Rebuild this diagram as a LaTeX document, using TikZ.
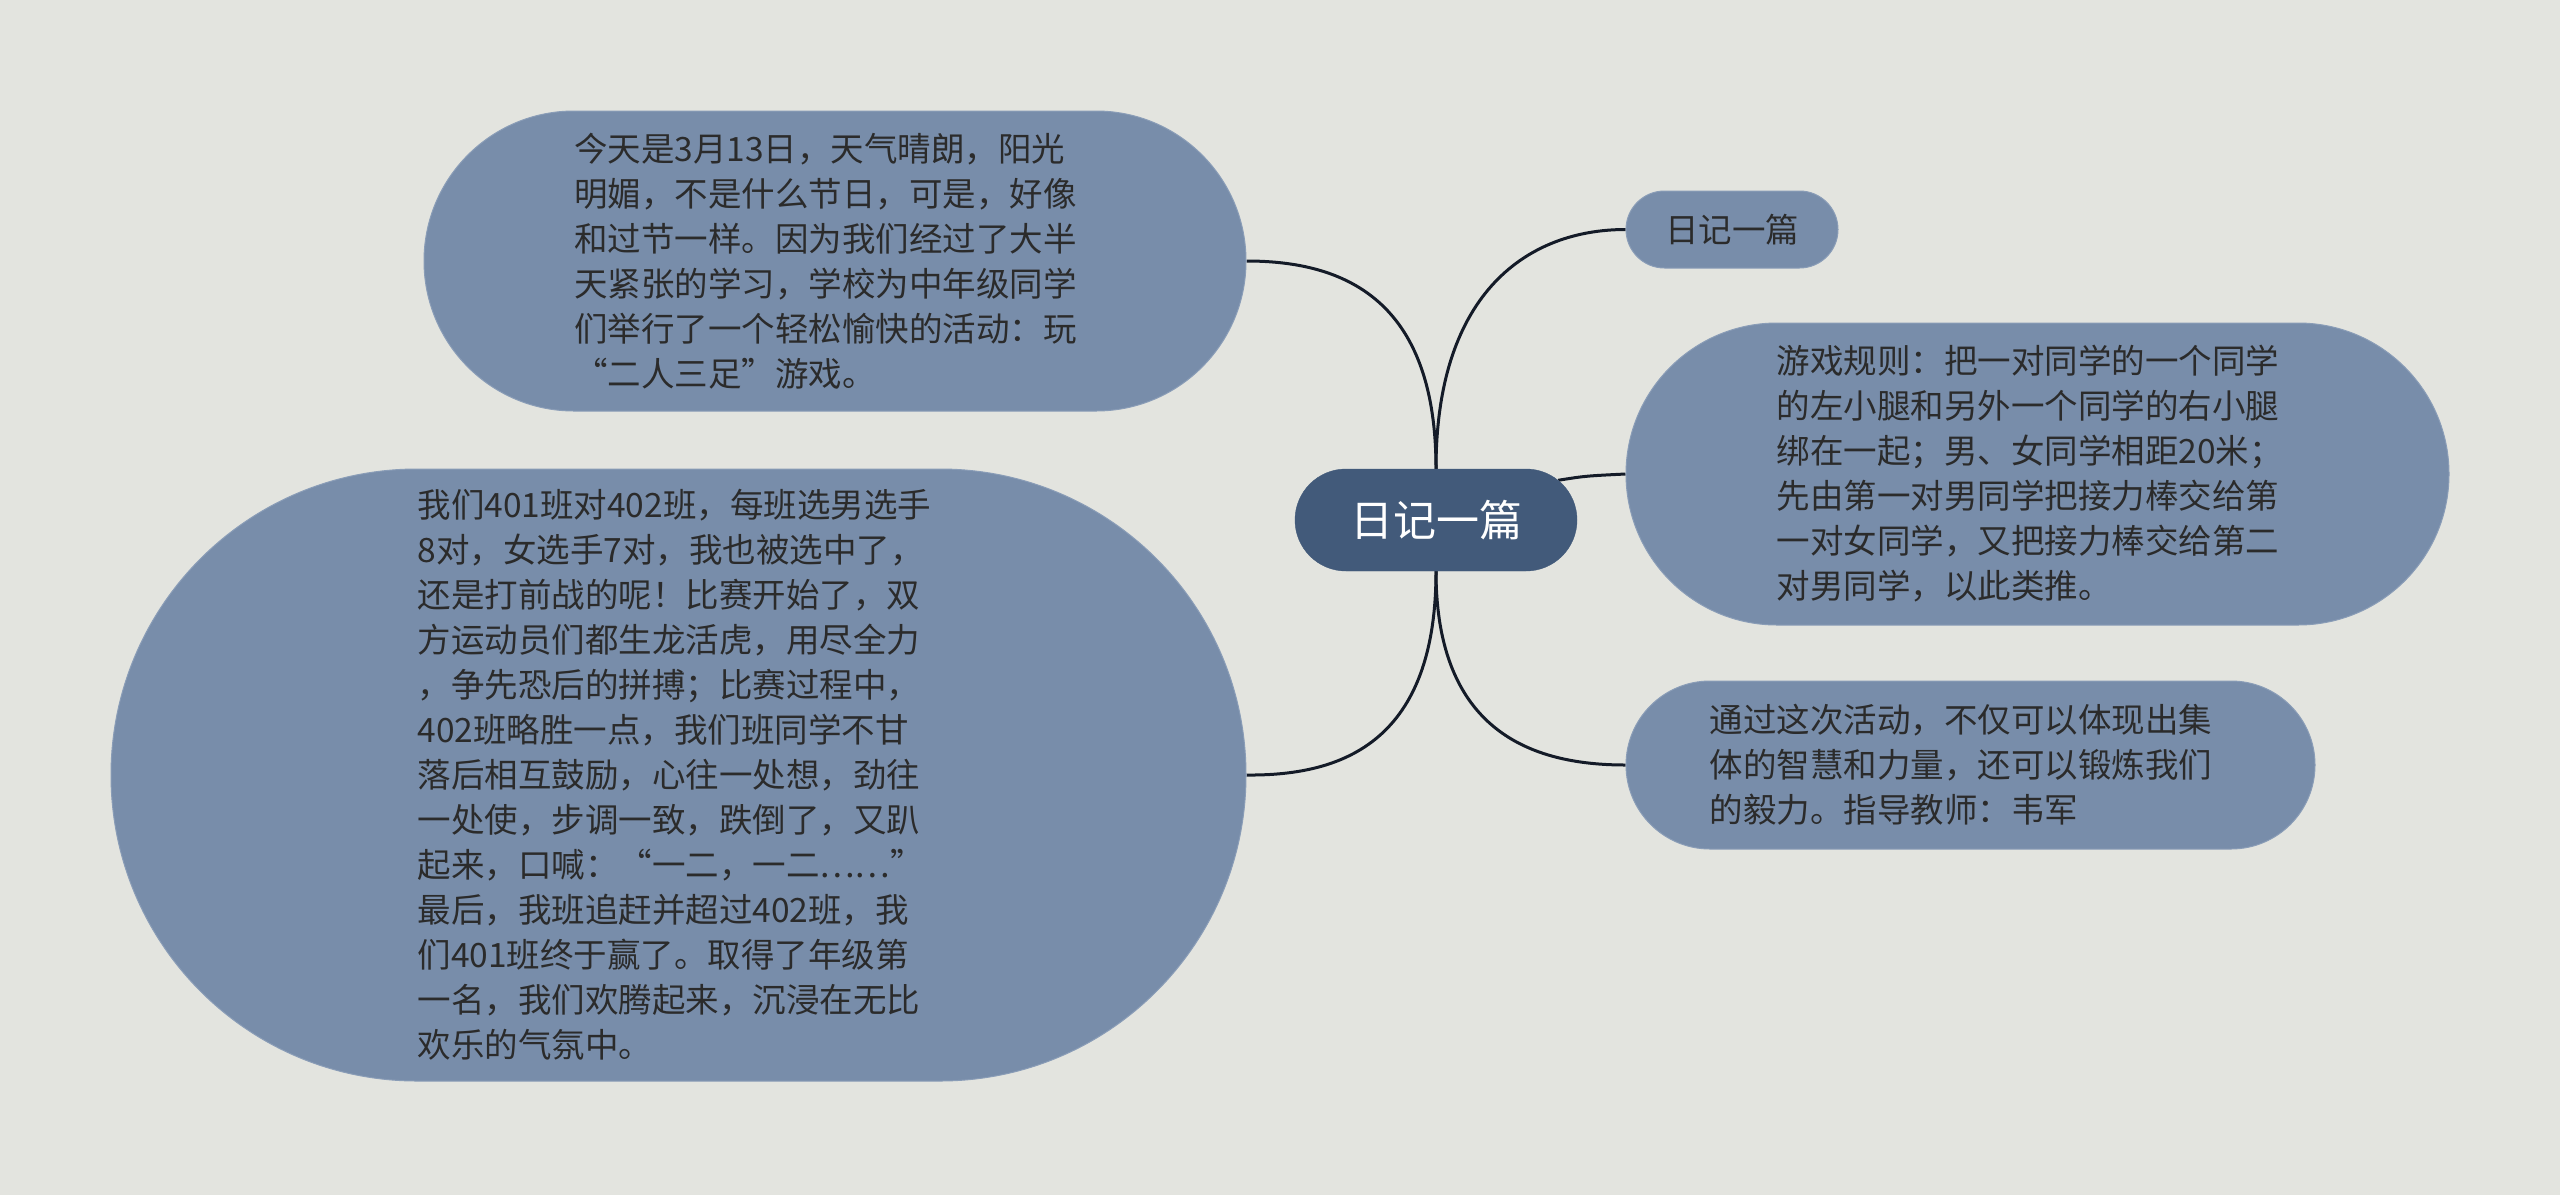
\documentclass[tikz,border=0pt]{standalone}
\usepackage{fontspec}
\newfontfamily\cjk{Noto Sans CJK SC}
\usetikzlibrary{shapes.misc}
\pgfdeclarelayer{bglayer}
\pgfsetlayers{bglayer,main}
\definecolor{bgc}{HTML}{E3E4DF}
\definecolor{leaf}{HTML}{788DAA}
\definecolor{leafedge}{HTML}{8A9DB7}
\definecolor{rootc}{HTML}{425A7A}
\definecolor{txtc}{HTML}{2B2B2B}
\definecolor{linec}{HTML}{141B28}
\tikzset{
  bubble/.style={rounded rectangle, fill=leaf, draw=leafedge, line width=1pt,
    text=txtc, inner sep=0pt, align=left,
    font=\cjk\fontsize{33.5}{45}\selectfont},
  para/.style={bubble, text width=522pt},
  rootbox/.style={rounded rectangle, fill=rootc, draw=rootc, text=white,
    inner sep=0pt, font=\cjk\fontsize{43}{50}\selectfont},
  conn/.style={draw=linec, line width=3pt}
}
\begin{document}
\begin{tikzpicture}[x=1pt,y=-1pt]
\begin{pgfonlayer}{bglayer}
\useasboundingbox (0,0) rectangle (2560,1195);
\fill[bgc] (0,0) rectangle (2560,1195);
\end{pgfonlayer}

% nodes
\node[rootbox, minimum width=282pt, minimum height=102pt] (c) at (1436,520) {日记一篇};
\node[para, minimum width=822pt, minimum height=300pt] (tl) at (835,261)
 {今天是3月13日，天气晴朗，阳光\\明媚，不是什么节日，可是，好像\\和过节一样。因为我们经过了大半\\天紧张的学习，学校为中年级同学\\们举行了一个轻松愉快的活动：玩\\“二人三足”游戏。};
\node[para, minimum width=1135pt, minimum height=612pt] (bl) at (678.5,775)
 {我们401班对402班，每班选男选手\\8对，女选手7对，我也被选中了，\\还是打前战的呢！比赛开始了，双\\方运动员们都生龙活虎，用尽全力\\，争先恐后的拼搏；比赛过程中，\\402班略胜一点，我们班同学不甘\\落后相互鼓励，心往一处想，劲往\\一处使，步调一致，跌倒了，又趴\\起来，口喊：“一二，一二……”\\最后，我班追赶并超过402班，我\\们401班终于赢了。取得了年级第\\一名，我们欢腾起来，沉浸在无比\\欢乐的气氛中。};
\node[bubble, minimum width=212pt, minimum height=77pt] (rt) at (1732,229.5) {日记一篇};
\node[para, minimum width=823pt, minimum height=302pt] (rm) at (2037.5,474)
 {游戏规则：把一对同学的一个同学\\的左小腿和另外一个同学的右小腿\\绑在一起；男、女同学相距20米；\\先由第一对男同学把接力棒交给第\\一对女同学，又把接力棒交给第二\\对男同学，以此类推。};
\node[para, minimum width=689pt, minimum height=168pt] (rb) at (1970.5,765)
 {通过这次活动，不仅可以体现出集\\体的智慧和力量，还可以锻炼我们\\的毅力。指导教师：韦军};

% connectors (behind nodes)
\begin{pgfonlayer}{bglayer}
\path[conn] (c.north) .. controls (1436,300) and (1345,261) .. (tl.east);
\path[conn] (c.north) .. controls (1436,290) and (1530,229.5) .. (rt.west);
\path[conn] (c.18) .. controls (1585,476) .. (rm.west);
\path[conn] (c.south) .. controls (1436,740) and (1345,776) .. (bl.east);
\path[conn] (c.south) .. controls (1436,730) and (1530,765) .. (rb.west);
\end{pgfonlayer}
\end{tikzpicture}
\end{document}
